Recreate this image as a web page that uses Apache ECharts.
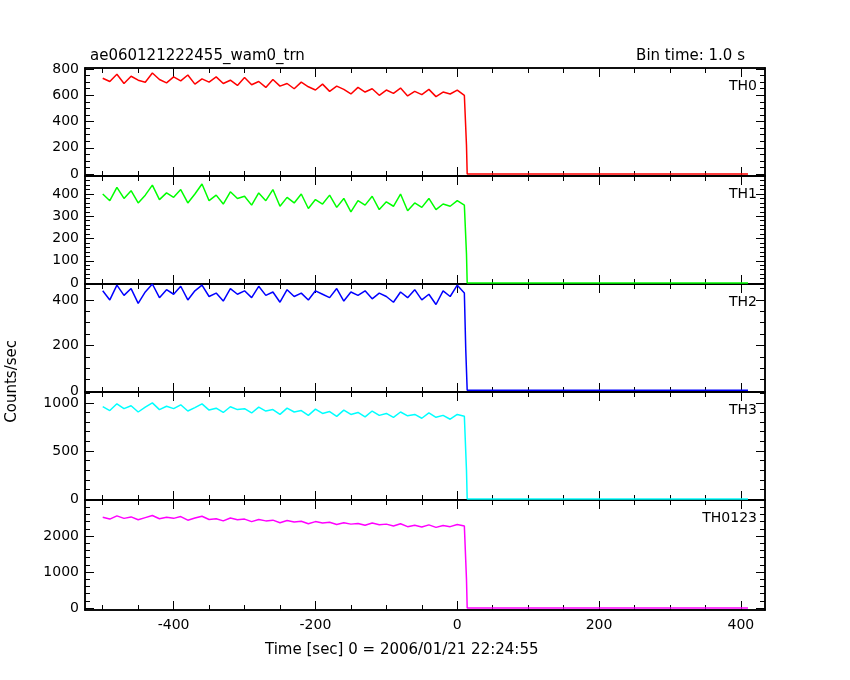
<!DOCTYPE html>
<html><head><meta charset="utf-8">
<script src="https://cdn.jsdelivr.net/npm/echarts@6/dist/echarts.min.js"></script>
<style>html,body{margin:0;background:#fff}#c{width:850px;height:680px}</style>
</head><body><div id="c"></div>
<script>
const times = [];
for (let t = -500; t <= 10; t += 10) times.push(t);
const th0 = [730,705,760,690,745,715,700,770,720,695,740,710,755,685,725,700,740,690,715,675,735,680,705,660,720,670,690,650,700,665,640,685,630,670,645,610,660,625,650,600,640,615,655,595,630,605,645,590,625,610,640,600];
const th1 = [400,370,430,380,415,360,395,440,375,405,385,420,360,400,445,370,395,355,410,380,390,350,405,370,420,345,385,360,400,335,375,355,395,340,380,320,370,350,390,330,365,345,400,325,360,340,380,330,355,345,370,350];
const th2 = [440,400,465,420,450,385,435,470,410,445,425,460,400,440,465,415,430,395,450,425,440,410,460,420,435,390,445,415,430,400,440,425,410,450,395,435,420,440,405,430,415,390,435,410,445,400,425,380,440,415,465,430];
const th3 = [960,920,990,940,970,905,955,1000,930,965,940,980,915,950,990,925,945,900,960,930,940,895,955,915,930,880,945,905,920,870,935,890,910,860,925,880,900,855,915,870,890,850,905,865,880,840,895,850,870,830,880,860];
const th0123 = [2520,2470,2560,2490,2530,2450,2510,2570,2480,2520,2490,2540,2440,2500,2550,2460,2480,2420,2500,2450,2470,2400,2460,2420,2440,2370,2430,2390,2410,2340,2400,2360,2380,2320,2370,2330,2350,2300,2360,2310,2330,2280,2340,2260,2300,2250,2310,2240,2290,2260,2320,2280];
const tails = [[[13,220],[14,0],[410,0]],[[13,130],[14,0],[410,0]],[[12,180],[14,3],[410,3]],[[13,300],[14,0],[410,0]],[[13,800],[14,0],[410,0]]];
const names = ['TH0','TH1','TH2','TH3','TH0123'];
const colors = ['#ff0000','#00ff00','#0000ff','#00ffff','#ff00ff'];
const values = [th0,th1,th2,th3,th0123];
const yMin = [-15,-4.5,-4.4,-10,-55], yMax = [808,481,470,1113,3000];
const yMajor = [[0,200,400,600,800],[0,100,200,300,400],[0,200,400],[0,500,1000],[0,1000,2000]];
const yMinorStep = [50,20,50,100,200];
const xTicksMajor = [-400,-200,0,200,400];
const xMinor = []; for (let v=-500; v<=400; v+=50) xMinor.push(v);
const tops = [68,176,284,392,500], heights = [108,108,108,108,110];
const xMin = -525, xMax = 434;

const grid=[], xAxis=[], yAxis=[], series=[], title=[];
const F = 'DejaVu Sans';
const fmt = v => String(Math.round(v));
for (let i=0;i<5;i++){
  grid.push({left:85,width:680,top:tops[i],height:heights[i]});
  const minorY=[]; for(let v=0; v<=yMax[i]; v+=yMinorStep[i]) minorY.push(v);
  const last = i===4;
  const xa=(pos,major,show)=>({type:'value',gridIndex:i,min:xMin,max:xMax,position:pos,
    axisLine:{show:true,onZero:false,lineStyle:{color:'#000',width:1.5}},
    axisTick:{show:true,inside:true,length:major?9:5,customValues:major?xTicksMajor:xMinor,lineStyle:{color:'#000'}},
    axisLabel:{show:show,customValues:xTicksMajor,formatter:fmt,color:'#000',fontFamily:F,fontSize:14,margin:8},
    splitLine:{show:false}});
  xAxis.push(xa('bottom',true,last), xa('top',true,false), xa('bottom',false,false), xa('top',false,false));
  const ya=(pos,major,show)=>({type:'value',gridIndex:i,min:yMin[i],max:yMax[i],position:pos,
    axisLine:{show:true,onZero:false,lineStyle:{color:'#000',width:1.5}},
    axisTick:{show:true,inside:true,length:major?9:5,customValues:major?yMajor[i]:minorY,lineStyle:{color:'#000'}},
    axisLabel:{show:show,customValues:yMajor[i],formatter:fmt,color:'#000',fontFamily:F,fontSize:14,margin:6},
    splitLine:{show:false}});
  yAxis.push(ya('left',true,true), ya('right',true,false), ya('left',false,false), ya('right',false,false));
  const data = times.map((t,k)=>[t,values[i][k]]).concat(tails[i]);
  series.push({type:'line',xAxisIndex:i*4,yAxisIndex:i*4,data:data,showSymbol:false,
    lineStyle:{color:colors[i],width:1.5},silent:true,animation:false});
  title.push({text:names[i],right:88,top:tops[i]+6,textStyle:{fontFamily:F,fontSize:14,fontWeight:'normal',color:'#000'}});
}
title.push({text:'ae060121222455_wam0_trn',left:85,top:44,textStyle:{fontFamily:F,fontSize:15,fontWeight:'normal',color:'#000'}});
title.push({text:'Bin time: 1.0 s',right:100,top:44,textStyle:{fontFamily:F,fontSize:15,fontWeight:'normal',color:'#000'}});
title.push({text:'Time [sec] 0 = 2006/01/21 22:24:55',left:260,top:638,textStyle:{fontFamily:F,fontSize:15,fontWeight:'normal',color:'#000'}});
const chart = echarts.init(document.getElementById('c'));
chart.setOption({animation:false,backgroundColor:'#fff',title,grid,xAxis,yAxis,series,
  graphic:[{type:'text',left:5,top:340,rotation:Math.PI/2,style:{text:'Counts/sec',font:'15px DejaVu Sans',fill:'#000',textAlign:'center',textVerticalAlign:'middle'}}]});
</script></body></html>
